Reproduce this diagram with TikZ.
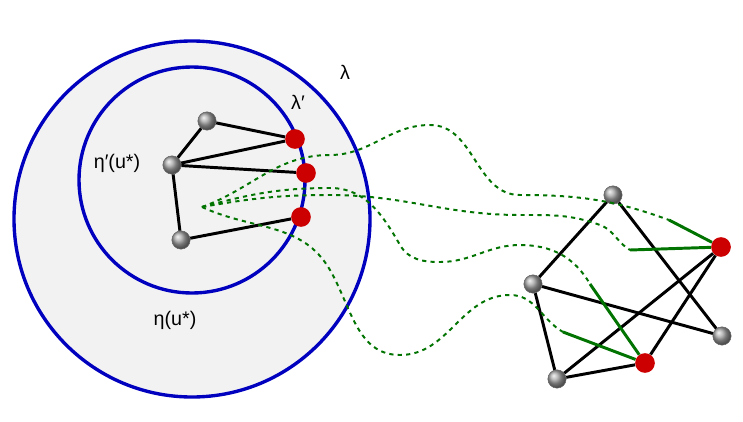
\documentclass[tikz,border=0pt]{standalone}
\usepackage{fontspec}
\setmainfont{Liberation Sans}
\begin{document}
\begin{tikzpicture}[x=0.025cm,y=-0.025cm,
  vtx/.style={circle,inner sep=0pt,minimum size=13pt,ball color=gray!70,draw=black!60},
  hit/.style={circle,inner sep=0pt,minimum size=14pt,fill=red!80!black},
  edge/.style={line width=2.1pt,black},
  ring/.style={line width=2.4pt,blue!75!black},
  route/.style={dashed,line width=1.4pt,green!45!black},
  tail/.style={line width=2.1pt,green!45!black},
  lbl/.style={font=\fontsize{14}{16}\selectfont}]
				\useasboundingbox (0,0) rectangle (743,421);
				%%%%% neighbourhoods %%%%%
				\draw[ring,fill=black!5] (192,219) circle (178);
				\draw[ring] (192,180) circle (113);
				\node[lbl] at (345,72) {λ};
				\node[lbl] at (298,102) {λ′};
				\node[lbl] at (117,163) {η′(u*)};
				\node[lbl] at (175,320) {η(u*)};

				%%%%% left graph %%%%%
				\coordinate (s) at (202,207);
				\node[vtx] (a) at (207,121) {};
				\node[vtx] (b) at (172,165) {};
				\node[vtx] (c) at (181,240) {};
				\node[hit] (r1) at (295,139) {};
				\node[hit] (r2) at (306,173) {};
				\node[hit] (r3) at (301,217) {};
				\draw[edge] (a) -- (r1);
				\draw[edge] (b) -- (r1);
				\draw[edge] (b) -- (r2);
				\draw[edge] (a) -- (b);
				\draw[edge] (b) -- (c);
				\draw[edge] (c) -- (r3);

				%%%%% right graph %%%%%
				\node[vtx] (t) at (613,195) {};
				\node[vtx] (l) at (533,284) {};
				\node[vtx] (br) at (722,336) {};
				\node[vtx] (bl) at (557,379) {};
				\node[hit] (rr) at (721,247) {};
				\node[hit] (rb) at (645,363) {};
				\coordinate (e1) at (669,220);
				\coordinate (e2) at (630,250);
				\coordinate (e3) at (590,284);
				\coordinate (e4) at (563,332);
				\draw[edge] (t) -- (l);
				\draw[edge] (t) -- (br);
				\draw[edge] (l) -- (br);
				\draw[edge] (l) -- (bl);
				\draw[edge] (bl) -- (rb);
				\draw[edge] (bl) -- (rr);
				\draw[edge] (rb) -- (rr);
				\draw[tail] (rr) -- (e1);
				\draw[tail] (rr) -- (e2);
				\draw[tail] (rb) -- (e3);
				\draw[tail] (rb) -- (e4);

				%%%%% routes %%%%%
				\draw[route] (s) to[out=20,in=180] (330,155) to[out=0,in=180] (430,125)
				  to[out=0,in=180] (520,195) to[out=0,in=160] (e1);
				\draw[route] (s) to[out=10,in=180] (330,195) to[out=0,in=180] (520,215)
				  to[out=0,in=160] (600,225) to[out=-20,in=150] (e2);
				\draw[route] (s) to[out=15,in=180] (330,188) to[out=0,in=120] (400,245)
				  to[out=-60,in=180] (440,262) to[out=0,in=180] (520,245) to[out=0,in=120] (e3);
				\draw[route] (s) to[out=-25,in=120] (330,270) to[out=-60,in=180] (400,355)
				  to[out=0,in=180] (510,295) to[out=0,in=150] (e4);
			\end{tikzpicture}
\end{document}
